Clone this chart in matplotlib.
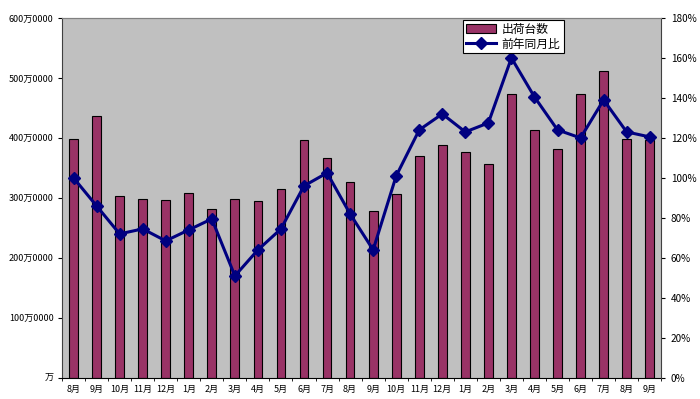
import numpy as np
import matplotlib
matplotlib.use("Agg")
import matplotlib.pyplot as plt
from matplotlib.ticker import FixedLocator, FuncFormatter

plt.rcParams["font.family"] = ["Noto Sans CJK JP", "DejaVu Sans"]

months = ["8月", "9月", "10月", "11月", "12月", "1月", "2月", "3月", "4月",
          "5月", "6月", "7月", "8月", "9月", "10月", "11月", "12月", "1月",
          "2月", "3月", "4月", "5月", "6月", "7月", "8月", "9月"]

# 出荷台数 (万台)
shipments = [399, 436, 304, 299, 297, 308, 282, 298, 295, 315, 397, 367, 327,
             279, 307, 370, 389, 377, 357, 474, 414, 381, 474, 511, 399, 397]

# 前年同月比 (%)
yoy = [100, 86, 72, 74.5, 68.5, 74, 79.5, 51, 64, 74.5, 96, 102.5, 82,
       64, 101, 124, 132, 123, 127.5, 160, 140.5, 124, 120, 139, 123, 120.5]

left_ticks = [0, 100, 200, 300, 400, 500, 600]
left_labels = ["万", "100万0000", "200万0000", "300万0000", "400万0000",
               "500万0000", "600万0000"]
right_ticks = [0, 20, 40, 60, 80, 100, 120, 140, 160, 180]

bar_color = "#993366"
line_color = "#000080"

fig = plt.figure(figsize=(7, 3.99), dpi=100)
ax = fig.add_axes([0.0886, 0.053, 0.856, 0.902])
ax.set_facecolor("#C0C0C0")

x = np.arange(len(months))
bars = ax.bar(x, shipments, width=0.38, color=bar_color,
              edgecolor="black", linewidth=0.8, label="出荷台数", zorder=2)
ax.set_xlim(-0.5, len(months) - 0.5)
ax.set_ylim(0, 600)
ax.set_yticks(left_ticks)
ax.set_yticklabels(left_labels)
ax.set_xticks(x)
ax.set_xticklabels(months)
ax.xaxis.set_minor_locator(FixedLocator(np.arange(-0.5, len(months), 1)))
ax.tick_params(axis="x", which="major", length=0, labelsize=6.5, pad=5)
ax.tick_params(axis="x", which="minor", length=2, direction="out")
ax.tick_params(axis="y", length=3, labelsize=6.5, pad=3)

ax.spines["top"].set_color("#808080")
ax.spines["top"].set_linewidth(0.8)
ax.spines["left"].set_color("#404040")
ax.spines["bottom"].set_color("black")
ax.spines["right"].set_visible(False)

ax2 = ax.twinx()
line, = ax2.plot(x, yoy, color=line_color, linewidth=2.2, marker="D",
                 markersize=6, label="前年同月比", zorder=3)
ax2.set_ylim(0, 180)
ax2.set_yticks(right_ticks)
ax2.yaxis.set_major_formatter(FuncFormatter(lambda v, p: f"{int(v)}%"))
ax2.tick_params(axis="y", length=3, labelsize=7.2, pad=4)
ax2.spines["right"].set_color("#404040")
ax2.spines["top"].set_color("#808080")
ax2.spines["top"].set_linewidth(0.8)
ax2.spines["left"].set_visible(False)
ax2.spines["bottom"].set_visible(False)

leg = ax2.legend([bars, line], ["出荷台数", "前年同月比"],
                 loc="upper left", bbox_to_anchor=(0.67, 0.995),
                 fancybox=False, framealpha=1, edgecolor="black",
                 fontsize=8.5, handlelength=2.5, borderpad=0.25,
                 labelspacing=0.15, handletextpad=0.5, borderaxespad=0)
leg.get_frame().set_linewidth(0.8)

fig.savefig("out.png", dpi=100, facecolor="white")
